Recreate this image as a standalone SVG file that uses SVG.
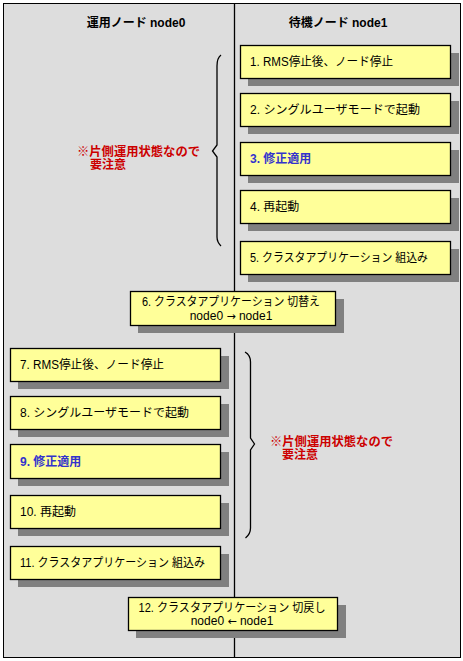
<svg xmlns="http://www.w3.org/2000/svg" width="463" height="661" viewBox="0 0 463 661">
<style>
text{font-family:"Liberation Sans","Noto Sans CJK JP",sans-serif;font-size:12px;fill:#000}
.hd{font-weight:bold}
.red{font-weight:bold;fill:#cc0000}
.blue{font-weight:bold;fill:#3333cc}
.box{fill:#ffff99;stroke:#000;stroke-width:1.3}
.sh{fill:#808080}
.br{fill:none;stroke:#000;stroke-width:1.3}
.c{text-anchor:middle}
.ar{font-family:"DejaVu Sans",sans-serif;font-size:11px}
</style>
<rect x="3.5" y="3.5" width="457" height="654" fill="#dddddd" stroke="#000" stroke-width="1"/>
<line x1="234.5" y1="3.5" x2="234.5" y2="657.5" stroke="#000" stroke-width="1.3"/>
<text class="hd c" x="136" y="27">運用ノード  node0</text>
<text class="hd c" x="338" y="27">待機ノード  node1</text>
<g id="connectors">
<path class="br" d="M221,55 Q217,58 217,66 L217,145 L212.5,151 L217,157 L217,237 Q217,242 221,246"/>
<path class="br" d="M245,352 Q250.5,355 250.5,362 L250.5,438 L254.5,444 L250.5,450 L250.5,528 Q250.5,534 245.5,538"/>
</g>
<g id="note1"><text class="red" x="77" y="156" textLength="123" lengthAdjust="spacingAndGlyphs">※片側運用状態なので</text><text class="red" x="90" y="169">要注意</text></g>
<g id="note2"><text class="red" x="270" y="446" textLength="123" lengthAdjust="spacingAndGlyphs">※片側運用状態なので</text><text class="red" x="282" y="459">要注意</text></g>
<g id="n1"><rect class="sh" x="248" y="53" width="211" height="33"/><rect class="box" x="240.5" y="45.5" width="210" height="33"/><text x="250" y="66" textLength="143" lengthAdjust="spacingAndGlyphs">1. RMS停止後、ノード停止</text></g>
<g id="n2"><rect class="sh" x="248" y="101" width="211" height="33"/><rect class="box" x="240.5" y="93.5" width="210" height="33"/><text x="250" y="114" textLength="170" lengthAdjust="spacingAndGlyphs">2. シングルユーザモードで起動</text></g>
<g id="n3"><rect class="sh" x="248" y="150" width="211" height="33"/><rect class="box" x="240.5" y="142.5" width="210" height="33"/><text class="blue" x="250" y="163">3. 修正適用</text></g>
<g id="n4"><rect class="sh" x="248" y="198" width="211" height="33"/><rect class="box" x="240.5" y="190.5" width="210" height="33"/><text x="250" y="211">4. 再起動</text></g>
<g id="n5"><rect class="sh" x="248" y="249" width="211" height="33"/><rect class="box" x="240.5" y="241.5" width="210" height="33"/><text x="250" y="262" textLength="178" lengthAdjust="spacingAndGlyphs">5. クラスタアプリケーション 組込み</text></g>
<g id="n6"><rect class="sh" x="138" y="299" width="206" height="34"/><rect class="box" x="130.5" y="291.5" width="205" height="34"/><text class="c" x="231" y="306" textLength="178" lengthAdjust="spacingAndGlyphs">6. クラスタアプリケーション 切替え</text><text class="c" x="231" y="320">node0 <tspan class="ar">→</tspan> node1</text></g>
<g id="n7"><rect class="sh" x="18" y="356" width="211" height="33"/><rect class="box" x="10.5" y="348.5" width="210" height="33"/><text x="20" y="369" textLength="144" lengthAdjust="spacingAndGlyphs">7. RMS停止後、ノード停止</text></g>
<g id="n8"><rect class="sh" x="18" y="404" width="211" height="33"/><rect class="box" x="10.5" y="396.5" width="210" height="33"/><text x="20" y="417" textLength="169" lengthAdjust="spacingAndGlyphs">8. シングルユーザモードで起動</text></g>
<g id="n9"><rect class="sh" x="18" y="452" width="211" height="34"/><rect class="box" x="10.5" y="444.5" width="210" height="34"/><text class="blue" x="20" y="466">9. 修正適用</text></g>
<g id="n10"><rect class="sh" x="18" y="503" width="211" height="33"/><rect class="box" x="10.5" y="495.5" width="210" height="33"/><text x="20" y="516">10. 再起動</text></g>
<g id="n11"><rect class="sh" x="18" y="554" width="211" height="33"/><rect class="box" x="10.5" y="546.5" width="210" height="33"/><text x="20" y="567" textLength="185" lengthAdjust="spacingAndGlyphs">11. クラスタアプリケーション 組込み</text></g>
<g id="n12"><rect class="sh" x="136" y="605" width="210" height="33"/><rect class="box" x="128.5" y="597.5" width="209" height="33"/><text class="c" x="232" y="611.5" textLength="187" lengthAdjust="spacingAndGlyphs">12. クラスタアプリケーション 切戻し</text><text class="c" x="232" y="625">node0 <tspan class="ar">←</tspan> node1</text></g>
</svg>
